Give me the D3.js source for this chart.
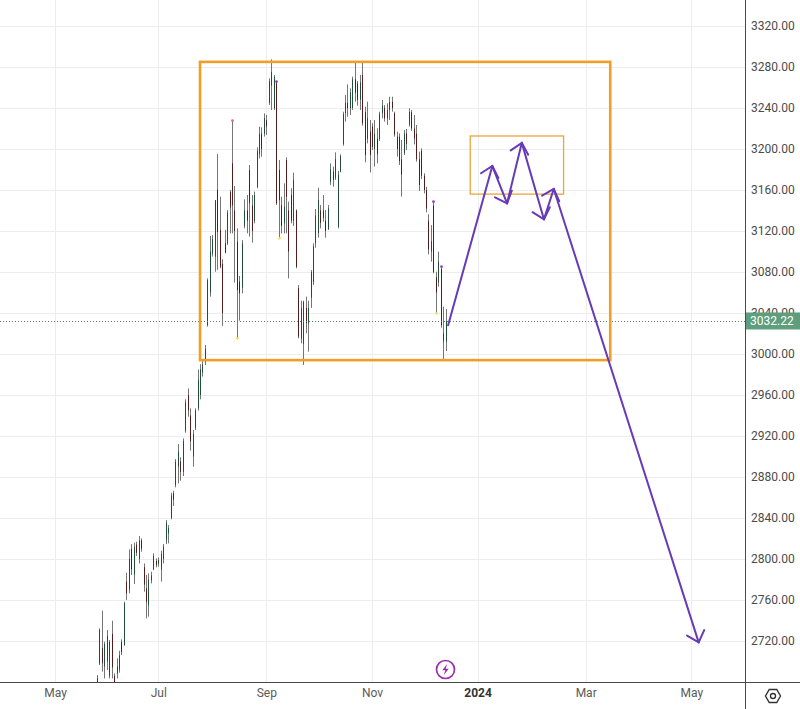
<!DOCTYPE html>
<html>
<head>
<meta charset="utf-8">
<script src="https://cdn.jsdelivr.net/npm/d3@7"></script>
<style>
  html, body { margin: 0; padding: 0; background: #fff; }
  svg { display: block; font-family: Roboto, "Liberation Sans", sans-serif; }
</style>
</head>
<body>
<svg id="chart" width="800" height="709"></svg>
<script>
// DATA (daily bars, one per weekday starting at firstBarDate)
const firstBarDate = "2023-05-29";

const opens = [
  2675, 2698, 2712.8, 2695, 2700, 2686, 2726.8, 2686, 2688.4, 2692,
  2719, 2716, 2777.9, 2770, 2810, 2785, 2814, 2800, 2818, 2792,
  2771.4, 2755, 2779, 2790, 2798, 2795, 2790, 2800, 2818, 2825,
  2840, 2864, 2872, 2890, 2895, 2885, 2925, 2960, 2940, 2900,
  2928, 2947, 2960, 2982, 2992, 3028, 3060, 3098, 3095, 3160,
  3121, 3088, 3108, 3108, 3158, 3186, 3140, 3109.6, 3070.6, 3065,
  3125, 3140, 3179.5, 3145, 3130, 3163, 3195, 3215, 3215, 3228,
  3245, 3262, 3240, 3264, 3179.5, 3145, 3127.5, 3189, 3140, 3155,
  3130, 3140, 3064, 3015, 3010, 3045, 3030, 3055, 3070, 3108,
  3118, 3140, 3140, 3130, 3122, 3168, 3178, 3172, 3124, 3178,
  3205, 3235, 3245, 3240, 3240, 3268, 3264, 3248, 3272, 3236,
  3210, 3217, 3222, 3200, 3210, 3210, 3235, 3240, 3230, 3238,
  3246, 3235, 3212, 3212, 3190, 3196, 3215, 3224, 3236, 3220,
  3215, 3190, 3198, 3174, 3160, 3130, 3100, 3145, 3075, 3070,
  3083, 3012.1, 3012
];
const highs = [
  2686.8, 2732.3, 2749.6, 2719.3, 2730.7, 2721, 2739.8, 2688.4, 2703.1, 2710.5,
  2721.6, 2758.3, 2786.6, 2809.4, 2814.6, 2815.9, 2816.9, 2822.4, 2820.1, 2795.7,
  2784.4, 2786, 2787.6, 2805.5, 2800.6, 2801.6, 2808.1, 2814.6, 2838, 2833.1,
  2864.7, 2866.6, 2897.5, 2912.2, 2899.2, 2917.7, 2955.8, 2966.5, 2947, 2925.8,
  2947, 2985, 2990, 2994, 3008.8, 3073.8, 3115.1, 3116.1, 3150.3, 3195.1,
  3153.5, 3092.4, 3121, 3140.5, 3160, 3227.7, 3163.9, 3122.6, 3076.1, 3111.2,
  3150.9, 3155.1, 3184.4, 3155.1, 3158.4, 3201.6, 3221.8, 3221.2, 3234.8, 3233.2,
  3268.9, 3287.5, 3272.2, 3265.7, 3189.3, 3153.5, 3166.5, 3191.9, 3148.6, 3161.6,
  3176.9, 3141.1, 3067.3, 3052, 3052, 3056, 3052, 3081.9, 3108, 3141.5,
  3162.3, 3145.4, 3155.1, 3140.5, 3145.4, 3186, 3182.8, 3196.7, 3178.5, 3194.8,
  3236.4, 3252.7, 3263.1, 3259.2, 3270.6, 3285.2, 3266.3, 3272.2, 3285.2, 3241.3,
  3246.2, 3228.3, 3225.1, 3228.3, 3220.2, 3236.4, 3247.8, 3242.9, 3244.5, 3251,
  3251, 3236.4, 3216.9, 3215.3, 3208.8, 3218.5, 3219.5, 3239.7, 3238, 3233.2,
  3223.4, 3197.4, 3200.6, 3176.3, 3163.2, 3136.3, 3125.8, 3148.6, 3080.3, 3099.8,
  3085.2, 3046.2, 3043.9
];
const lows = [
  2670, 2696.6, 2690.1, 2683.5, 2691.7, 2683.5, 2683.5, 2675, 2683.5, 2689.1,
  2706.3, 2715.4, 2760, 2766.5, 2784.4, 2775.6, 2802.9, 2795.7, 2807.1, 2768.1,
  2742.1, 2743.7, 2776.2, 2789.2, 2791.8, 2792.5, 2777.9, 2795.7, 2814.6, 2815.2,
  2838.7, 2851.7, 2869.9, 2873.8, 2876.4, 2880.9, 2923.2, 2938.8, 2905.7, 2890,
  2925.8, 2944.7, 2955.8, 2978, 2989.3, 3026.7, 3056, 3095, 3080.3, 3082,
  3083.6, 3027.3, 3098.2, 3106.4, 3117.7, 3117.7, 3069.6, 3015.3, 3032.5, 3059.2,
  3122.6, 3117.7, 3114.5, 3108.6, 3127.5, 3161.6, 3190.9, 3192.5, 3212.1, 3213.7,
  3243, 3238, 3238, 3145.4, 3112.9, 3117.7, 3117.7, 3117.7, 3073.8, 3127.5,
  3124.9, 3083.6, 3015.3, 3010.4, 2989.3, 3020.2, 3002.3, 3045, 3067.3, 3103.7,
  3113.5, 3122.6, 3129.1, 3113.5, 3121, 3164.9, 3163.2, 3169.8, 3122.6, 3177.2,
  3203.2, 3226.7, 3231.5, 3233.2, 3238, 3246.2, 3242.3, 3238, 3222.8, 3187,
  3205.5, 3177.2, 3199, 3182.8, 3186, 3207.8, 3229.9, 3226.7, 3223.4, 3228.3,
  3236.4, 3212, 3192.5, 3184.4, 3153.5, 3194.1, 3199, 3221.8, 3217.6, 3204.5,
  3187.6, 3159, 3170.7, 3156.7, 3138.2, 3097.2, 3090.1, 3078.7, 3039.7, 3065.7,
  3025.7, 2994.1, 3002.9
];
const closes = [
  2684, 2731, 2698.2, 2717, 2725, 2719, 2694.3, 2680, 2694.9, 2706,
  2709, 2757, 2766.5, 2800, 2790, 2812, 2806, 2818, 2810, 2775,
  2758.3, 2780, 2784, 2803, 2794, 2799, 2805, 2812, 2835, 2830,
  2862, 2858, 2895, 2905, 2885, 2915, 2953, 2945, 2915, 2922,
  2945, 2975, 2985, 2990, 3005, 3072, 3100, 3112, 3150, 3119,
  3085, 3040, 3099, 3138, 3143, 3145, 3120, 3062.5, 3059.2, 3108,
  3140, 3130, 3147, 3120, 3155, 3198, 3215, 3200, 3230, 3222,
  3266, 3275, 3270, 3147, 3150, 3125, 3143.7, 3153.5, 3100, 3130,
  3170, 3085, 3017, 3045, 3051, 3030, 3045, 3080, 3105, 3135,
  3150, 3128, 3133, 3120, 3142, 3180, 3170, 3190, 3175, 3193,
  3234, 3245, 3240, 3255, 3268, 3255, 3248, 3265, 3225, 3194,
  3230, 3194, 3202, 3215, 3195, 3234, 3242, 3230, 3238, 3246,
  3240, 3214, 3200, 3188, 3175, 3215, 3205, 3236, 3220, 3210,
  3190, 3165, 3174, 3160, 3142, 3102, 3110, 3080, 3060, 3090,
  3028, 3020.2, 3032.22
];
const lastPrice = 3032.22;

// small event dots (bar number, price, colour)
const dotBars = [58, 75, 139, 56, 74, 138, 141];
const dotPrices = [3015.3, 3112.9, 3039.7, 3227.7, 3265.7, 3148.6, 3085.2];
const dotColors = ["#f2e24a", "#f2e24a", "#f2e24a", "#e06a8a", "#a03cc0", "#a03cc0", "#a03cc0"];

// axis ticks (month label sits on the first trading bar of the month)
const priceTicks = [2720, 2760, 2800, 2840, 2880, 2920, 2960, 3000, 3040, 3080, 3120, 3160, 3200, 3240, 3280, 3320];
const monthTickDates = ["2023-05-04", "2023-07-03", "2023-09-01", "2023-11-01", "2024-01-01", "2024-03-01", "2024-05-01"];
const monthTickLabels = ["May", "Jul", "Sep", "Nov", "2024", "Mar", "May"];

// drawings
const rangeBoxDates = ["2023-07-26", "2024-03-15"];
const rangeBoxPrices = [3285, 2994];
const topBoxDates = ["2023-12-27", "2024-02-19"];
const topBoxPrices = [3212.7, 3156];
const pathDates = ["2023-12-14", "2024-01-09", "2024-01-17", "2024-01-25", "2024-02-07", "2024-02-13", "2024-05-06"];
const pathPrices = [3028, 3183.4, 3147, 3206, 3131.4, 3161, 2718.7];

// CANVAS SETUP
const svg = d3.select("#chart");
const W = 800, H = 709;
const plotRight = 745, plotBottom = 682;

const purple = "#673ab7",
  orange = "#f29d26",
  gridColor = "#ededed";

const parse = d3.utcParse("%Y-%m-%d");
const calStart = parse("2023-05-01"); // a Monday

// weekday (trading bar) index counted from calStart
function barIndex(date) {
  const days = d3.utcDay.count(calStart, date);
  return Math.floor(days / 7) * 5 + Math.min(days % 7, 4);
}

const x = d3
  .scaleLinear()
  .domain([barIndex(parse("2024-01-01")), barIndex(parse("2024-05-01"))])
  .range([477.6, 691.3]);

const y = d3.scaleLinear().domain([2720, 3320]).range([641, 26]);

const firstIdx = barIndex(parse(firstBarDate));
const bars = opens.map((o, i) => ({
  idx: firstIdx + i,
  open: o,
  high: highs[i],
  low: lows[i],
  close: closes[i],
}));

const defs = svg.append("defs");
defs
  .append("clipPath")
  .attr("id", "plotClip")
  .append("rect")
  .attr("x", 0)
  .attr("y", 0)
  .attr("width", plotRight)
  .attr("height", plotBottom);

defs
  .append("marker")
  .attr("id", "arrowHead")
  .attr("viewBox", "-14 -12 18 24")
  .attr("markerWidth", 18)
  .attr("markerHeight", 24)
  .attr("markerUnits", "userSpaceOnUse")
  .attr("orient", "auto")
  .attr("refX", 0)
  .attr("refY", 0)
  .append("path")
  .attr("d", "M-10,-9 L0,0 L-10,9")
  .attr("fill", "none")
  .attr("stroke", purple)
  .attr("stroke-width", 2)
  .attr("stroke-linecap", "round");

svg.append("rect").attr("width", W).attr("height", H).attr("fill", "#fff");

// GRID
const grid = svg.append("g").attr("clip-path", "url(#plotClip)");
grid
  .selectAll("line.h")
  .data(priceTicks)
  .join("line")
  .attr("class", "h")
  .attr("x1", 0)
  .attr("x2", plotRight)
  .attr("y1", (d) => Math.round(y(d)) + 0.5)
  .attr("y2", (d) => Math.round(y(d)) + 0.5)
  .attr("stroke", gridColor);

const monthIdx = monthTickDates.map((d) => barIndex(parse(d)));
grid
  .selectAll("line.v")
  .data(monthIdx)
  .join("line")
  .attr("class", "v")
  .attr("x1", (d) => Math.round(x(d)) + 0.5)
  .attr("x2", (d) => Math.round(x(d)) + 0.5)
  .attr("y1", 0)
  .attr("y2", plotBottom)
  .attr("stroke", gridColor);

// BARS
const plot = svg.append("g").attr("clip-path", "url(#plotClip)");

const barX = (d) => Math.round(x(d.idx)) + 0.5;

plot
  .selectAll("line.wick")
  .data(bars)
  .join("line")
  .attr("class", "wick")
  .attr("x1", barX)
  .attr("x2", barX)
  .attr("y1", (d) => y(d.high))
  .attr("y2", (d) => y(d.low))
  .attr("stroke", "#767676")
  .attr("stroke-width", 1);

plot
  .selectAll("line.body")
  .data(bars)
  .join("line")
  .attr("class", "body")
  .attr("x1", barX)
  .attr("x2", barX)
  .attr("y1", (d) => y(Math.max(d.open, d.close)))
  .attr("y2", (d) => Math.max(y(Math.min(d.open, d.close)), y(Math.max(d.open, d.close)) + 1))
  .attr("stroke", (d) => (d.close >= d.open ? "#1f4f36" : "#541d1d"))
  .attr("stroke-width", 1);

plot
  .selectAll("circle.dot")
  .data(dotBars)
  .join("circle")
  .attr("class", "dot")
  .attr("cx", (d) => barX(bars[d - 1]))
  .attr("cy", (d, i) => y(dotPrices[i]))
  .attr("r", 1.4)
  .attr("fill", (d, i) => dotColors[i]);

// last price dotted line
plot
  .append("line")
  .attr("x1", 0)
  .attr("x2", plotRight)
  .attr("y1", Math.round(y(lastPrice)) + 0.5)
  .attr("y2", Math.round(y(lastPrice)) + 0.5)
  .attr("stroke", "#5d7f6e")
  .attr("stroke-width", 1)
  .attr("stroke-dasharray", "1,2");

// DRAWINGS
const dx = (s) => x(barIndex(parse(s)));

plot
  .append("rect")
  .attr("x", dx(rangeBoxDates[0]))
  .attr("y", y(rangeBoxPrices[0]))
  .attr("width", dx(rangeBoxDates[1]) - dx(rangeBoxDates[0]))
  .attr("height", y(rangeBoxPrices[1]) - y(rangeBoxPrices[0]))
  .attr("fill", "none")
  .attr("stroke", orange)
  .attr("stroke-width", 2.6);

plot
  .append("rect")
  .attr("x", dx(topBoxDates[0]))
  .attr("y", y(topBoxPrices[0]))
  .attr("width", dx(topBoxDates[1]) - dx(topBoxDates[0]))
  .attr("height", y(topBoxPrices[1]) - y(topBoxPrices[0]))
  .attr("fill", "none")
  .attr("stroke", "#e9a43c")
  .attr("stroke-width", 1.3);

const pathPts = pathDates.map((d, i) => [dx(d), y(pathPrices[i])]);
plot
  .selectAll("line.leg")
  .data(d3.pairs(pathPts))
  .join("line")
  .attr("class", "leg")
  .attr("x1", (d) => d[0][0])
  .attr("y1", (d) => d[0][1])
  .attr("x2", (d) => d[1][0])
  .attr("y2", (d) => d[1][1])
  .attr("stroke", purple)
  .attr("stroke-width", 2)
  .attr("stroke-linecap", "round")
  .attr("marker-end", "url(#arrowHead)");

// event icon
const ev = svg.append("g").attr("transform", "translate(445.5,669.5)");
ev.append("circle").attr("r", 9).attr("fill", "#fff").attr("stroke", "#9c2fae").attr("stroke-width", 1.7);
ev.append("path")
  .attr("d", "M1.6,-5.6 L-3.2,0.8 L-0.2,0.8 L-1.6,5.6 L3.2,-0.8 L0.2,-0.8 Z")
  .attr("fill", "#9c2fae");

// AXES
svg
  .append("line")
  .attr("x1", 0)
  .attr("x2", W)
  .attr("y1", plotBottom + 0.5)
  .attr("y2", plotBottom + 0.5)
  .attr("stroke", "#4a4a4a");
svg
  .append("line")
  .attr("x1", plotRight + 0.5)
  .attr("x2", plotRight + 0.5)
  .attr("y1", 0)
  .attr("y2", H)
  .attr("stroke", "#4a4a4a");

const yAxis = svg
  .append("g")
  .attr("transform", `translate(${plotRight},0)`)
  .call(
    d3.axisRight(y).tickValues(priceTicks).tickFormat(d3.format(".2f")).tickSize(0).tickPadding(6)
  );
yAxis.select(".domain").remove();
yAxis
  .selectAll("text")
  .attr("font-family", "Roboto, sans-serif")
  .attr("font-size", 12)
  .attr("fill", "#4b4b4b");

const xAxis = svg
  .append("g")
  .attr("transform", `translate(0,${plotBottom})`)
  .call(
    d3.axisBottom(x).tickValues(monthIdx).tickFormat((d, i) => monthTickLabels[i]).tickSize(0).tickPadding(6)
  );
xAxis.select(".domain").remove();
xAxis
  .selectAll("text")
  .attr("font-family", "Roboto, sans-serif")
  .attr("font-size", 12)
  .attr("fill", (d, i) => (monthTickLabels[i] === "2024" ? "#333" : "#5a5a5a"))
  .attr("font-weight", (d, i) => (monthTickLabels[i] === "2024" ? 700 : 400));

// last price label (drawn over the axis, as in the terminal)
const ly = y(lastPrice);
svg
  .append("rect")
  .attr("x", plotRight + 1)
  .attr("y", ly - 8.5)
  .attr("width", W - plotRight - 1)
  .attr("height", 17)
  .attr("fill", "#5e9e7c");
svg
  .append("text")
  .attr("x", plotRight + 5)
  .attr("y", ly)
  .attr("dy", "0.35em")
  .attr("font-size", 12)
  .attr("fill", "#fff")
  .text(d3.format(".2f")(lastPrice));

// settings icon
const gear = svg.append("g").attr("transform", "translate(773,696)");
gear
  .append("path")
  .attr("d", d3.range(6).map((k) => {
    const a = (Math.PI / 3) * k;
    return (k ? "L" : "M") + (7.5 * Math.cos(a)).toFixed(2) + "," + (7.5 * Math.sin(a)).toFixed(2);
  }).join("") + "Z")
  .attr("fill", "none")
  .attr("stroke", "#333")
  .attr("stroke-width", 1.4);
gear.append("circle").attr("r", 2.5).attr("fill", "none").attr("stroke", "#333").attr("stroke-width", 1.4);
</script>
</body>
</html>
